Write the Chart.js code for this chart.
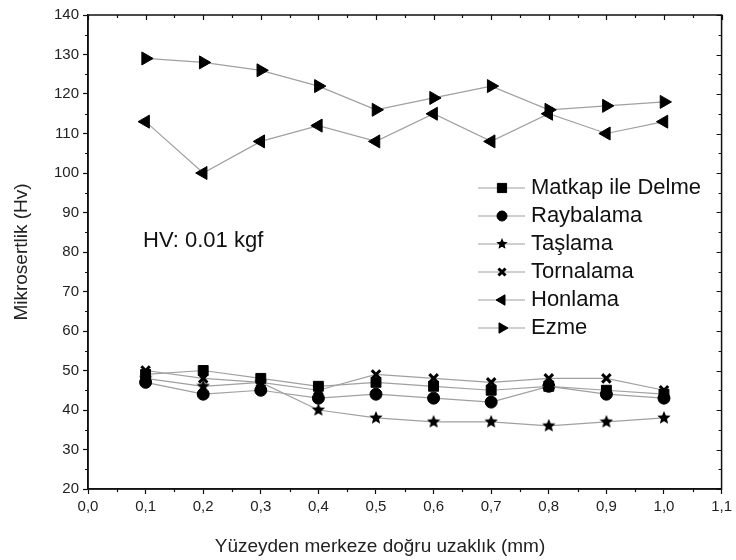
<!DOCTYPE html>
<html>
<head>
<meta charset="utf-8">
<script src="https://cdn.jsdelivr.net/npm/chart.js@4.4.1/dist/chart.umd.min.js"></script>
<style>
  html, body { margin: 0; padding: 0; background: #fff; }
  #wrap { width: 736px; height: 560px; }
</style>
</head>
<body>
<div id="wrap"><canvas id="chart"></canvas></div>
<script>
// distances from surface (mm)
var distances = [0.1, 0.2, 0.3, 0.4, 0.5, 0.6, 0.7, 0.8, 0.9, 1.0];

// microhardness values (Hv)
var matkapIleDelme = [49, 50, 48, 46, 47, 46, 45, 46, 45, 44];
var raybalama      = [47, 44, 45, 43, 44, 43, 42, 46, 44, 43];
var taslama        = [48, 46, 47, 40, 38, 37, 37, 36, 37, 38];
var tornalama      = [50, 48, 47, 45, 49, 48, 47, 48, 48, 45];
var honlama        = [113, 100, 108, 112, 108, 115, 108, 115, 110, 113];
var ezme           = [129, 128, 126, 122, 116, 119, 122, 116, 117, 118];

var seriesNames = ['Matkap ile Delme', 'Raybalama', 'Taşlama', 'Tornalama', 'Honlama', 'Ezme'];

var FONT = '"Liberation Sans", Arial, sans-serif';

// filled five point star marker (Chart.js 'star' is only strokes)
function makeStar(size) {
  var c = document.createElement('canvas');
  c.width = size; c.height = size;
  var g = c.getContext('2d');
  var cx = size / 2, cy = size / 2, ro = size / 2, ri = ro * 0.45;
  g.beginPath();
  for (var k = 0; k < 10; k++) {
    var r = k % 2 === 0 ? ro : ri;
    var ang = -Math.PI / 2 + k * Math.PI / 5;
    g.lineTo(cx + r * Math.cos(ang), cy + r * Math.sin(ang));
  }
  g.closePath();
  g.fillStyle = '#000';
  g.fill();
  return c;
}
var starIcon = makeStar(14);
var starIconSmall = makeStar(12);

var seriesValues = [matkapIleDelme, raybalama, taslama, tornalama, honlama, ezme];
var markerStyles = ['rect', 'circle', starIcon, 'crossRot', 'triangle', 'triangle'];
var legendStyles = ['rect', 'circle', starIconSmall, 'crossRot', 'triangle', 'triangle'];
var markerRotation = [0, 0, 0, 0, -90, 90];
var markerRadius = [7, 6, 7, 6, 7.5, 7.5];
var legendRadius = [6.5, 5, 6, 5, 6, 6];

function toPoints(vals) {
  return vals.map(function(v, i) { return { x: distances[i], y: v }; });
}

var datasets = seriesNames.map(function(name, i) {
  return {
    label: name,
    data: toPoints(seriesValues[i]),
    borderColor: '#a0a0a0',
    borderWidth: 1.2,
    pointStyle: markerStyles[i],
    rotation: markerRotation[i],
    pointRadius: markerRadius[i],
    pointBackgroundColor: '#000',
    pointBorderColor: '#000',
    pointBorderWidth: i === 3 ? 3 : 1,
    tension: 0
  };
});

// box frame, minor ticks, mirrored ticks
var framePlugin = {
  id: 'frame',
  afterDraw: function(chart) {
    var ctx = chart.ctx, a = chart.chartArea;
    var xs = chart.scales.x, ys = chart.scales.y;
    ctx.save();
    ctx.strokeStyle = '#111';
    ctx.lineWidth = 1.5;
    ctx.strokeRect(a.left, a.top, a.right - a.left, a.bottom - a.top);
    ctx.lineWidth = 1.2;
    ctx.beginPath();
    for (var i = 0; i <= 22; i++) {
      var px = Math.round(xs.getPixelForValue(i * 0.05)) + 0.5;
      var major = i % 2 === 0;
      var len = major ? 5 : 3;
      if (!major) { ctx.moveTo(px, a.bottom); ctx.lineTo(px, a.bottom + len); }
      ctx.moveTo(px, a.top); ctx.lineTo(px, a.top + len);
    }
    for (var j = 0; j <= 24; j++) {
      var py = Math.round(ys.getPixelForValue(20 + j * 5)) + 0.5;
      var maj = j % 2 === 0;
      var l = maj ? 5 : 3;
      if (!maj) { ctx.moveTo(a.left, py); ctx.lineTo(a.left - l, py); }
      ctx.moveTo(a.right, py); ctx.lineTo(a.right - l, py);
    }
    ctx.stroke();

    // x axis title, sits a bit left of centre in the original
    ctx.font = '19px ' + FONT;
    ctx.fillStyle = '#222';
    ctx.textAlign = 'center';
    ctx.textBaseline = 'middle';
    ctx.fillText('Yüzeyden merkeze doğru uzaklık (mm)', 380, 547);
    ctx.restore();
  }
};

// legend drawn inside plot area, line + marker like the original
var legendPlugin = {
  id: 'insideLegend',
  afterDatasetsDraw: function(chart) {
    var ctx = chart.ctx;
    var x0 = 478, x1 = 525, xm = 502, tx = 531, y0 = 188, dy = 28;
    ctx.save();
    ctx.font = '22px ' + FONT;
    ctx.textBaseline = 'middle';
    chart.data.datasets.forEach(function(ds, i) {
      var y = y0 + i * dy;
      ctx.strokeStyle = '#a0a0a0';
      ctx.lineWidth = 1.2;
      ctx.beginPath(); ctx.moveTo(x0, y); ctx.lineTo(x1, y); ctx.stroke();
      ctx.fillStyle = '#000';
      ctx.strokeStyle = '#000';
      ctx.lineWidth = ds.pointBorderWidth;
      Chart.helpers.drawPoint(ctx, {
        pointStyle: legendStyles[i],
        rotation: ds.rotation,
        radius: legendRadius[i],
        borderWidth: ds.pointBorderWidth === 3 ? 2.5 : 1
      }, xm, y);
      ctx.fillStyle = '#111';
      ctx.fillText(ds.label, tx, y);
    });
    ctx.fillText('HV: 0.01 kgf', 143, 241);
    ctx.restore();
  }
};

new Chart(document.getElementById('chart'), {
  type: 'line',
  data: { datasets: datasets },
  plugins: [framePlugin, legendPlugin],
  options: {
    responsive: true,
    maintainAspectRatio: false,
    animation: false,
    layout: { padding: { top: 15, right: 13, left: 0, bottom: 0 } },
    plugins: {
      legend: { display: false },
      tooltip: { enabled: false }
    },
    scales: {
      x: {
        type: 'linear',
        min: 0,
        max: 1.1,
        afterFit: function(scale) { scale.height = 71; },
        border: { display: true, color: '#111', width: 1.5 },
        grid: { drawOnChartArea: false, drawTicks: true, tickLength: 5, tickColor: '#111', tickWidth: 1.2 },
        ticks: {
          stepSize: 0.1,
          padding: 4,
          color: '#222',
          font: { family: FONT, size: 15 },
          maxRotation: 0,
          callback: function(v) { return (Math.round(v * 10) / 10).toFixed(1).replace('.', ','); }
        }
      },
      y: {
        min: 20,
        max: 140,
        afterFit: function(scale) { scale.width = 88; },
        border: { display: true, color: '#111', width: 1.5 },
        grid: { drawOnChartArea: false, drawTicks: true, tickLength: 5, tickColor: '#111', tickWidth: 1.2 },
        ticks: {
          stepSize: 10,
          padding: 4,
          color: '#222',
          font: { family: FONT, size: 15 }
        },
        title: {
          display: true,
          text: 'Mikrosertlik (Hv)',
          color: '#222',
          font: { family: FONT, size: 19 },
          padding: { top: 10, bottom: 0 }
        }
      }
    }
  }
});
</script>
</body>
</html>
